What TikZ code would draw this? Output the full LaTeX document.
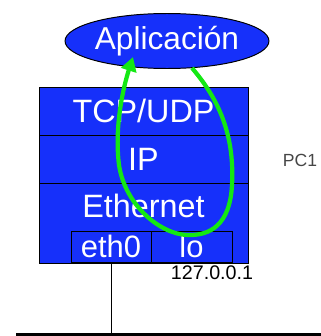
\documentclass[tikz,border=0pt]{standalone}
\usepackage{fontspec}
\setmainfont{Liberation Sans}
\usetikzlibrary{arrows.meta,shapes.geometric}
\definecolor{stackblue}{RGB}{22,48,250}
\definecolor{loopgreen}{RGB}{20,232,20}
\definecolor{pcgray}{RGB}{70,70,70}

\begin{document}
\begin{tikzpicture}[
    x=0.025cm, y=-0.025cm,
    layer/.style={draw, fill=stackblue, text=white, line width=0.7pt, minimum width=209*0.025cm, inner sep=0pt, font=\fontsize{23}{25}\selectfont},
    iface/.style={draw, fill=stackblue, text=white, line width=0.7pt, minimum height=31*0.025cm, inner sep=0pt, font=\fontsize{22}{24}\selectfont},
    app/.style={ellipse, draw, fill=stackblue, text=white, line width=0.7pt, minimum width=160*0.025cm, minimum height=55*0.025cm, inner sep=0pt, font=\fontsize{22.5}{24}\selectfont},
    arrow/.style={-{Triangle[length=10pt, width=11pt]}, draw=loopgreen, line width=3pt}
  ]
    \useasboundingbox (0,0) rectangle (321,336);
    \node[app] (apl) at (167,41) {Aplicación};
    \node[layer, minimum height=48*0.025cm] (tcp) at (143.5,111) {TCP/UDP};
    \node[layer, minimum height=48*0.025cm] (ip) at (143.5,159) {IP};
    \node[layer, minimum height=80*0.025cm] (eth) at (143.5,223) {};
    \node[text=white, font=\fontsize{23}{25}\selectfont] (ethtext) at (143.5,206) {Ethernet};
    \node[iface, minimum width=80*0.025cm] (eth0) at (111,246.5) {eth0};
    \node[iface, minimum width=81*0.025cm] (lo) at (191.5,246.5) {lo};
    \node[font=\fontsize{14}{16}\selectfont] (lo_ip) at (212,273) {127.0.0.1};
    \node[text=pcgray, font=\fontsize{12.5}{14}\selectfont] (pc) at (300,160) {PC1};
    \coordinate (tap) at (111,334.5);
    \coordinate (busL) at (16,334.5);
    \coordinate (busR) at (321,334.5);
    \draw[line width=0.7pt] (eth0.south) -- (tap);
    \draw[line width=2.8pt] (busL) -- (busR);
    \draw[arrow] (192,68) .. controls (215,95) and (235,130) .. (232,185)
      .. controls (230,225) and (210,236) .. (187,235)
      .. controls (160,234) and (125,205) .. (119,165)
      .. controls (114,125) and (124,85) .. (133,57);
  \end{tikzpicture}
\end{document}
